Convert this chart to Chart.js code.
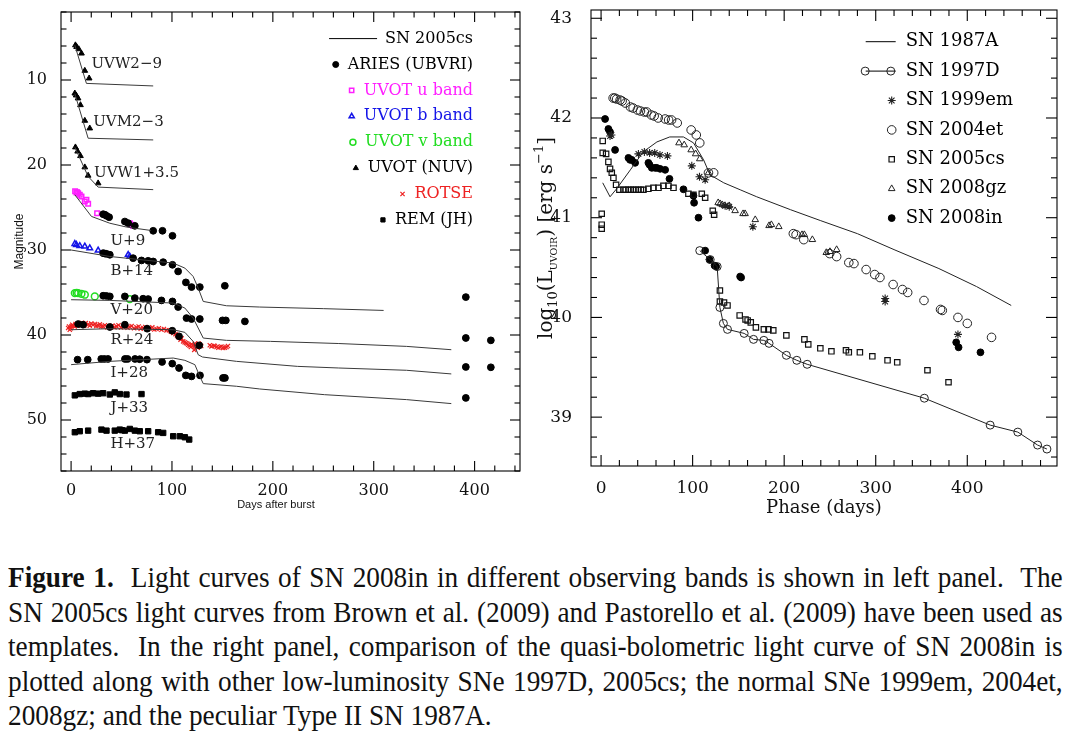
<!DOCTYPE html>
<html>
<head>
<meta charset="utf-8">
<script src="https://cdn.jsdelivr.net/npm/chart.js@4.4.1/dist/chart.umd.min.js"></script>
<style>
  body { margin: 0; background: #fff; width: 1073px; height: 749px; overflow: hidden; position: relative; }
  #left { position: absolute; left: 0; top: 0; }
  #right { position: absolute; left: 530px; top: 0; }
  #caption { position: absolute; left: 8px; top: 560px; width: 1122px; font: 29px/34.5px "Liberation Serif", serif; color: #111;
             transform: scaleX(0.94); transform-origin: 0 0; }
  #caption div { text-align: justify; text-align-last: justify; }
  #caption div.last { text-align: left; text-align-last: left; }
</style>
</head>
<body>
<canvas id="left" width="530" height="520"></canvas>
<canvas id="right" width="543" height="520"></canvas>
<div id="caption">
  <div><b>Figure 1.</b>&nbsp; Light curves of SN 2008in in different observing bands is shown in left panel.&nbsp; The</div>
  <div>SN 2005cs light curves from Brown et al. (2009) and Pastorello et al. (2009) have been used as</div>
  <div>templates.&nbsp; In the right panel, comparison of the quasi-bolometric light curve of SN 2008in is</div>
  <div>plotted along with other low-luminosity SNe 1997D, 2005cs; the normal SNe 1999em, 2004et,</div>
  <div class="last">2008gz; and the peculiar Type II SN 1987A.</div>
</div>
<script>
// ---------- LEFT PANEL DATA: [days after burst, magnitude] ----------
const xTicksLeft = [0, 100, 200, 300, 400];
const yTicksLeft = [10, 20, 30, 40, 50];

// SN 2005cs templates
const uvw2Tpl = [[3.7,5.9],[15.2,10.4],[81.4,10.7]];
const uvm2Tpl = [[3.7,11.6],[16.9,16.85],[81.4,17.05]];
const uvw1Tpl = [[3.7,17.9],[16.9,21.35],[26.8,22.6],[81.4,22.9]];
const uTpl = [[3.7,23.5],[20.2,26.05],[38.4,26.85],[54.9,27.3],[79,27.7]];
const bTpl = [[0,30.0],[38.4,30.76],[101.2,31.54],[112.8,32.13],[121,33.11],[126,34.48],[131,36.05],[154,36.56],[187,36.71],[250,36.9],[309.8,37.11]];
const vTpl = [[0,35.85],[38.4,35.93],[101.2,36.24],[112.8,36.83],[121,38.01],[126,39.18],[131,40.36],[154,40.63],[197.6,40.75],[264.8,41.0],[332.4,41.34],[376.9,41.73]];
const rTpl = [[0,39.38],[38.4,39.26],[101.2,39.38],[112.8,39.69],[121,40.75],[126,42.32],[130.3,42.59],[163.9,43.1],[224.3,43.69],[264.8,43.88],[332.4,44.15],[376.9,44.58]];
const iTpl = [[0,43.49],[38.4,43.1],[101.2,42.71],[112.8,42.98],[122.7,43.49],[127.6,44.86],[131,45.72],[163.9,46.03],[187,46.35],[251.1,47.02],[332.4,47.6],[376.9,48.07]];

// SN 2008in observations
const ariesU = [[31.8,25.79],[33.5,25.85],[35.1,25.98],[37.7,26.14],[53.3,26.65],[56.6,26.84],[63.2,27.16],[81.4,27.74],[90.6,27.74],[100.5,28.33]];
const ariesB = [[31.8,30.37],[33.5,30.42],[35.1,30.45],[38.4,30.56],[61.5,30.96],[69.8,31.23],[76.4,31.27],[81.4,31.35],[91.3,31.43],[100.5,31.74],[106.1,32.52],[113.8,33.81],[119.4,34.36],[127.6,34.36],[152.4,34.21],[391.3,35.54]];
const ariesV = [[31.8,35.38],[35,35.4],[38.4,35.46],[53.3,35.46],[63.2,35.66],[71.4,35.73],[76.4,35.77],[89.6,35.93],[100.5,36.05],[106.1,36.71],[114.4,38.01],[119.4,38.12],[127.6,38.12],[150.1,38.28],[153.4,38.28],[172.3,38.4],[391.3,40.35],[416.1,40.63]];
const ariesR = [[7,38.71],[11.9,38.79],[38.4,39.06],[53.3,38.79],[75.4,39.26],[100.3,39.5],[107,40.16],[127.1,41.22],[391.3,43.76],[416.1,43.8]];
const ariesI = [[6.4,42.9],[16.5,42.9],[29.9,42.82],[33,42.82],[36.6,42.82],[53.4,42.82],[56,42.82],[63.4,42.82],[68,42.85],[75.2,42.9],[90.2,43.17],[100.3,43.37],[107,43.88],[113.7,44.75],[119.4,44.87],[127.8,44.75],[150.6,45.05],[152.5,45.05],[391.3,47.4]];
const uvotU = [[4,23.1],[5.3,23.24],[6,23.2],[7,23.32],[8.6,23.51],[10.3,23.71],[13.6,24.3],[15.2,24.1],[16.9,24.57],[25.8,25.67],[58.2,26.84],[59.9,27.04],[61.5,27.16]];
const uvotB = [[3.7,29.27],[5.3,29.39],[8.6,29.51],[13.6,29.58],[18.5,29.78],[26.8,30.05],[56.6,30.56],[58.2,30.76]];
const uvotV = [[3.7,35.07],[5.5,35.05],[7,35.07],[10.3,35.15],[13.6,35.26],[23.5,35.46],[58.2,35.77]];
const uvw2Obs = [[4.3,5.9],[5.5,6.1],[7.6,6.36],[10.3,6.87],[13.6,8.9],[17.9,9.8]];
const uvm2Obs = [[3.7,11.57],[5,11.8],[6.9,12.15],[9.3,12.94],[13.6,14.78],[18.5,15.68]];
const uvw1Obs = [[4.3,17.91],[6.5,18.4],[9.3,18.93],[13.6,20.26],[16.9,21.24],[26.8,22.14]];
const rotseR = [[-2.9,39.18],[-2,39.0],[-1.3,39.38],[-0.5,39.2],[0.4,38.98],[1.2,38.8],[2,38.91],[3.5,39.0],[4.5,38.7],[5.3,38.79],[6.5,38.9],[8.6,38.71],
  [9.5,38.8],[10.5,38.55],[11.9,38.67],[13,38.9],[14.5,38.6],[16.9,38.75],[18.5,38.9],[20,38.65],[21.8,38.79],[23.5,38.7],[25,38.95],[26.8,38.87],
  [28.5,38.75],[30,39.0],[31.8,38.98],[33.5,38.85],[36,39.1],[38.4,38.98],[41,38.9],[43,39.1],[45,38.98],[47,38.85],[49.5,39.1],[51.6,39.02],
  [54,38.95],[56,39.15],[58.2,39.06],[60,38.95],[62.5,39.2],[64.8,39.1],[67,39.0],[69,39.25],[71.4,39.18],[73.5,39.05],[76,39.3],[78,39.22],
  [80.5,39.1],[82.5,39.35],[84.7,39.3],[87,39.2],[89.6,39.38],[92,39.3],[94.6,39.46],[97,39.45],[99,39.6],[101.2,39.77],[103.5,39.9],[105,40.05],
  [106.1,40.24],[108.5,40.55],[109.5,40.4],[111.1,40.75],[112.5,40.85],[113.8,40.94],[115,41.0],[116.1,41.14],[117.5,41.25],[118.7,41.41],[119.5,41.1],
  [121,41.26],[122.1,41.75],[122.7,41.02],[123,41.3],[124.3,41.41],[125.5,41.5],[126.5,41.0],[127.6,41.14],[129,41.3],[137.5,41.2],[139.2,41.34],
  [141.5,41.26],[142.5,41.3],[144.2,41.41],[146,41.5],[147.5,41.41],[149,41.35],[150.8,41.53],[152.5,41.5],[154.1,41.41],[155.5,41.3]];
const remJ = [[3.7,47.1],[8.6,46.95],[13.6,46.9],[16.9,46.95],[21.8,46.85],[26.8,46.9],[31.8,46.85],[38.4,47.0],[43.3,46.75],[48.3,46.95],[54.9,47.0],[69.8,46.95]];
const remH = [[3.7,51.44],[8.6,51.32],[16.9,51.25],[30.1,51.13],[35.1,51.25],[43.3,51.25],[48.3,51.13],[50.5,51.2],[53.3,51.25],[58.2,51.05],[63.2,51.25],[68.1,51.32],[76.4,51.32],[86.3,51.44],[91.3,51.52],[101.2,51.91],[107.8,51.91],[112.8,52.03],[117.1,52.3]];

// band labels and where they sit (days, magnitude)
const bandLabels = ['UVW2\u22129', 'UVM2\u22123', 'UVW1+3.5', 'U+9', 'B+14', 'V+20', 'R+24', 'I+28', 'J+33', 'H+37'];
const bandLabelDays = [20.2, 21.9, 22.8, 39, 39, 39, 39, 39, 39, 39];
const bandLabelMags = [8.16, 14.9, 20.97, 29.0, 32.52, 37.03, 40.55, 44.47, 48.58, 52.89];

// ---------- RIGHT PANEL DATA: [phase days, log10 L] ----------
const xTicksRight = [0, 100, 200, 300, 400];
const yTicksRight = [39, 40, 41, 42, 43];

const sn1987A = [[1.8,41.35],[9.8,41.21],[17,41.29],[32,41.48],[46,41.66],[61,41.76],[75,41.81],[90,41.81],[101,41.75],[112,41.58],[119,41.43],[134,41.35],[152,41.28],[170,41.21],[207,41.08],[240,40.97],[280,40.84],[320,40.68],[369,40.49],[410,40.31],[448,40.12]];
const sn1997D = [[107.8,40.67],[119.2,40.58],[126.8,40.51],[129.8,40.10],[133.6,39.94],[138.1,39.88],[156.3,39.84],[166.5,39.78],[177.8,39.77],[183.5,39.74],[202.4,39.62],[213.8,39.57],[225.1,39.53],[353.1,39.19],[425,38.92],[455.2,38.85],[476.8,38.72],[487,38.68]];
const sn1999em = [[9.8,41.82],[11.3,41.83],[40.8,41.64],[47.3,41.66],[53,41.65],[58.6,41.65],[64.3,41.63],[72.5,41.62],[99.1,41.52],[107.5,41.41],[113.7,41.38],[135.5,41.12],[140,41.11],[165.8,40.91],[310.3,40.19],[310.3,40.16],[389.8,39.83]];
const sn2004et = [[13.2,42.2],[15,42.2],[17,42.19],[20.8,42.18],[23,42.17],[26.5,42.15],[32.1,42.11],[35,42.1],[39.7,42.08],[43,42.07],[47.3,42.06],[50,42.06],[54.9,42.03],[58,42.02],[62.4,42.0],[70,41.99],[73.8,41.98],[77,41.98],[83.2,41.95],[98.4,41.88],[104,41.83],[107.8,41.75],[117.3,41.45],[123,41.45],[210,40.84],[213,40.83],[221.4,40.78],[249.7,40.64],[257.3,40.61],[270.6,40.55],[276.2,40.54],[289.5,40.48],[298.9,40.43],[304.6,40.4],[319,40.33],[329.2,40.28],[334.9,40.25],[352.7,40.17],[370.8,40.08],[372.7,40.07],[389.8,40.0],[400,39.94],[426.5,39.8]];
const sn2005cs = [[0.7,41.04],[0.7,40.93],[0.7,40.89],[1.8,41.77],[1.8,41.65],[5.5,41.64],[8,41.56],[9.8,41.49],[11.7,41.45],[13.5,41.4],[16.4,41.33],[20,41.28],[24.4,41.28],[27,41.28],[29.9,41.28],[32.5,41.28],[35.3,41.28],[38,41.28],[40.8,41.28],[43.5,41.28],[46.3,41.28],[51.7,41.29],[57.2,41.3],[62.7,41.3],[68.1,41.32],[73.6,41.32],[79.1,41.3],[95.4,41.24],[100.9,41.23],[110,41.24],[113.7,41.2],[122,41.07],[123.5,41.03],[129.8,40.27],[129.8,40.16],[134.3,40.15],[138.1,40.12],[151.4,40.02],[157.8,39.98],[160.1,39.97],[163.5,39.95],[169.1,39.9],[177.8,39.88],[182.8,39.88],[188.1,39.87],[202.4,39.82],[222.1,39.78],[226.3,39.73],[239.5,39.69],[251.6,39.66],[267.5,39.67],[270.6,39.65],[282.7,39.65],[296.3,39.61],[312.9,39.57],[323.5,39.55],[356.5,39.47],[379.5,39.35]];
const sn2008gz = [[85.1,41.75],[90.8,41.73],[98.4,41.68],[103.3,41.64],[107.8,41.59],[117.3,41.45],[127.9,41.15],[130,41.14],[132.4,41.13],[135,41.12],[140,41.12],[146.4,41.07],[155.1,41.04],[157.3,41.04],[168.4,40.98],[183.5,40.92],[186,40.93],[194.1,40.91],[219.5,40.83],[222,40.83],[230.8,40.78],[246,40.65],[250,40.66],[257.3,40.68]];
const sn2008in = [[4.4,41.99],[8,41.89],[9.8,41.86],[15.3,41.68],[29.9,41.6],[31.7,41.58],[33.5,41.58],[37.2,41.55],[51.7,41.55],[53,41.53],[55.4,41.5],[59,41.5],[60.8,41.5],[64.5,41.49],[70,41.48],[74.7,41.39],[90,41.285],[100.9,41.22],[101.6,41.15],[106.4,41.0],[113.7,40.67],[118.4,40.58],[124,40.52],[125.7,40.51],[151.9,40.41],[153,40.4],[387.9,39.75],[390.5,39.7],[414.4,39.65]];

// ---------- UTIL ----------
const toXY = pts => pts.map(([x, y]) => ({ x, y }));
const serif = 'DejaVu Serif';
// fixed axis boxes so the plot frames land where the figure has them
const fixX = h => s => { s.height = h; s.paddingLeft = 0; s.paddingRight = 0; };
const fixY = w => s => { s.width = w; s.paddingTop = 0; s.paddingBottom = 0; };

// ---------- PLUGINS ----------
// box round the plot with PGPLOT-style inward ticks on all four sides
const frameTicks = {
  id: 'frameTicks',
  afterDraw(chart, args, o) {
    const { ctx, chartArea: a, scales: { x, y } } = chart;
    ctx.save();
    ctx.strokeStyle = '#000';
    ctx.lineWidth = 1.1;
    ctx.strokeRect(a.left, a.top, a.right - a.left, a.bottom - a.top);
    const seg = (x1, y1, x2, y2) => { ctx.beginPath(); ctx.moveTo(x1, y1); ctx.lineTo(x2, y2); ctx.stroke(); };
    const each = (scale, minor, major, fn) => {
      const lo = Math.min(scale.min, scale.max), hi = Math.max(scale.min, scale.max);
      for (let k = Math.ceil(lo / minor - 1e-9); k * minor <= hi + 1e-9; k++) {
        const v = k * minor, r = v / major;
        fn(scale.getPixelForValue(v), Math.abs(r - Math.round(r)) < 1e-6 ? o.major : o.minor);
      }
    };
    each(x, o.xMinor, o.xMajor, (p, len) => { seg(p, a.bottom, p, a.bottom - len); seg(p, a.top, p, a.top + len); });
    each(y, o.yMinor, o.yMajor, (p, len) => { seg(a.left, p, a.left + len, p); seg(a.right, p, a.right - len, p); });
    ctx.restore();
  }
};

// the band names next to each light curve, plus the x title
const bandText = {
  id: 'bandText',
  afterDraw(chart) {
    const { ctx, chartArea: a, scales: { x, y } } = chart;
    ctx.save();
    ctx.font = '15px "' + serif + '"';
    ctx.fillStyle = '#222';
    ctx.textAlign = 'left';
    ctx.textBaseline = 'middle';
    bandLabels.forEach((t, i) => ctx.fillText(t, x.getPixelForValue(bandLabelDays[i]), y.getPixelForValue(bandLabelMags[i])));
    ctx.font = '11px "Liberation Sans"';
    ctx.fillStyle = '#111';
    ctx.textAlign = 'center';
    ctx.fillText('Days after burst', a.left + 215, a.bottom + 34);
    ctx.restore();
  }
};

function marker(ctx, ds, px, py, r) {
  ctx.fillStyle = ds.pointBackgroundColor;
  ctx.strokeStyle = ds.pointBorderColor;
  ctx.lineWidth = ds.pointBorderWidth;
  Chart.helpers.drawPoint(ctx, { pointStyle: ds.pointStyle, rotation: 0, radius: r, borderWidth: ds.pointBorderWidth }, px, py);
}

// left legend: right-aligned text, symbol in front
const legendLeft = {
  id: 'legendLeft',
  afterDraw(chart) {
    const { ctx, chartArea: a } = chart;
    const tx = a.right - 47;
    let row = 0;
    ctx.save();
    ctx.font = '16px "' + serif + '"';
    ctx.textAlign = 'right';
    ctx.textBaseline = 'middle';
    chart.data.datasets.forEach(ds => {
      if (!ds.legendText) return;
      const yy = a.top + 26.6 + row * 25.9;
      ctx.fillStyle = ds.labelColor || '#000';
      ctx.fillText(ds.legendText, tx, yy);
      const start = tx - ctx.measureText(ds.legendText).width;
      if (ds.showLine) {
        ctx.strokeStyle = '#000'; ctx.lineWidth = 1;
        ctx.beginPath(); ctx.moveTo(start - 56, yy); ctx.lineTo(start - 8, yy); ctx.stroke();
      } else {
        marker(ctx, ds, start - 12, yy, Math.min(ds.pointRadius, 3));
      }
      row++;
    });
    ctx.restore();
  }
};

// right legend: symbol then left-aligned text
const legendRight = {
  id: 'legendRight',
  afterDraw(chart) {
    const { ctx, chartArea: a } = chart;
    const tx = a.left + 314.7;
    let row = 0;
    ctx.save();
    ctx.font = '18px "' + serif + '"';
    ctx.textAlign = 'left';
    ctx.textBaseline = 'middle';
    chart.data.datasets.forEach(ds => {
      if (!ds.legendText) return;
      const yy = a.top + 31.7 + row * 29.4;
      ctx.fillStyle = '#000';
      ctx.fillText(ds.legendText, tx, yy);
      if (ds.showLine) {
        ctx.strokeStyle = '#000'; ctx.lineWidth = 1;
        ctx.beginPath(); ctx.moveTo(tx - 40, yy); ctx.lineTo(tx - 10, yy); ctx.stroke();
        if (ds.pointRadius > 0) { marker(ctx, ds, tx - 40.5, yy, ds.pointRadius); marker(ctx, ds, tx - 14.9, yy, ds.pointRadius); }
      } else {
        marker(ctx, ds, tx - 14, yy, ds.pointRadius);
      }
      row++;
    });
    ctx.restore();
  }
};

// rotated y title with sub/superscripts
const yTitleRight = {
  id: 'yTitleRight',
  afterDraw(chart) {
    const { ctx, chartArea: a } = chart;
    const parts = [['log', 20, 0], ['10', 13, 5], ['(L', 20, 0], ['UVOIR', 9.5, 5], [') [erg s', 20, 0], ['\u22121', 13, -9], [']', 20, 0]];
    ctx.save();
    ctx.fillStyle = '#111';
    ctx.textBaseline = 'alphabetic';
    ctx.textAlign = 'left';
    let total = 0;
    parts.forEach(p => { ctx.font = p[1] + 'px "' + serif + '"'; total += ctx.measureText(p[0]).width; });
    ctx.translate(15, (a.top + a.bottom) / 2);
    ctx.rotate(-Math.PI / 2);
    let u = -total / 2;
    parts.forEach(p => {
      ctx.font = p[1] + 'px "' + serif + '"';
      ctx.fillText(p[0], u, 7 + p[2]);
      u += ctx.measureText(p[0]).width;
    });
    ctx.restore();
  }
};

// ---------- LEFT CHART ----------
const tpl = { showLine: true, pointRadius: 0, borderColor: '#3a3a3a', borderWidth: 1, fill: false };
const open = 'rgba(0,0,0,0)';

new Chart(document.getElementById('left'), {
  type: 'scatter',
  data: {
    datasets: [
      { ...tpl, data: toXY(uvw2Tpl), legendText: 'SN 2005cs' },
      { ...tpl, data: toXY(uvm2Tpl) },
      { ...tpl, data: toXY(uvw1Tpl) },
      { ...tpl, data: toXY(uTpl) },
      { ...tpl, data: toXY(bTpl) },
      { ...tpl, data: toXY(vTpl) },
      { ...tpl, data: toXY(rTpl) },
      { ...tpl, data: toXY(iTpl) },
      { data: toXY([...ariesU, ...ariesB, ...ariesV, ...ariesR, ...ariesI]), legendText: 'ARIES (UBVRI)',
        pointStyle: 'circle', pointRadius: 3.4, pointBackgroundColor: '#000', pointBorderColor: '#000', pointBorderWidth: 1 },
      { data: toXY(uvotU), legendText: 'UVOT u band', labelColor: '#ff20ff',
        pointStyle: 'rect', pointRadius: 3.2, pointBackgroundColor: open, pointBorderColor: '#ff20ff', pointBorderWidth: 1.5 },
      { data: toXY(uvotB), legendText: 'UVOT b band', labelColor: '#1515e8',
        pointStyle: 'triangle', pointRadius: 3.2, pointBackgroundColor: open, pointBorderColor: '#1515e8', pointBorderWidth: 1.5 },
      { data: toXY(uvotV), legendText: 'UVOT v band', labelColor: '#22dd22',
        pointStyle: 'circle', pointRadius: 3.4, pointBackgroundColor: open, pointBorderColor: '#22dd22', pointBorderWidth: 1.5 },
      { data: toXY([...uvw2Obs, ...uvm2Obs, ...uvw1Obs]), legendText: 'UVOT (NUV)',
        pointStyle: 'triangle', pointRadius: 3.3, pointBackgroundColor: '#000', pointBorderColor: '#000', pointBorderWidth: 1 },
      { data: toXY(rotseR), legendText: 'ROTSE', labelColor: '#ee2222',
        pointStyle: 'crossRot', pointRadius: 3, pointBackgroundColor: '#ee2222', pointBorderColor: '#ee2222', pointBorderWidth: 1.2 },
      { data: toXY([...remJ, ...remH]), legendText: 'REM (JH)',
        pointStyle: 'rect', pointRadius: 3.8, pointBackgroundColor: '#000', pointBorderColor: '#000', pointBorderWidth: 1 },
    ]
  },
  options: {
    responsive: false, animation: false, devicePixelRatio: 1,
    layout: { autoPadding: false, padding: { left: 0, top: 12, right: 10, bottom: 0 } },
    plugins: {
      legend: { display: false }, tooltip: { enabled: false },
      frameTicks: { xMinor: 20, xMajor: 100, yMinor: 2, yMajor: 10, major: 10, minor: 5.5 }
    },
    scales: {
      x: {
        type: 'linear', min: -10, max: 445,
        afterBuildTicks: s => { s.ticks = xTicksLeft.map(v => ({ value: v })); },
        afterFit: fixX(49),
        grid: { display: false }, border: { display: false },
        ticks: { color: '#111', padding: 2, font: { family: serif, size: 16 } }
      },
      y: {
        type: 'linear', min: 2, max: 56, reverse: true,
        afterBuildTicks: s => { s.ticks = yTicksLeft.map(v => ({ value: v })); },
        afterFit: fixY(61),
        grid: { display: false }, border: { display: false },
        ticks: { color: '#111', padding: 6, font: { family: serif, size: 16 } },
        title: { display: true, text: 'Magnitude', color: '#111', padding: { top: 12.8, bottom: 0 }, font: { family: 'Liberation Sans', size: 12 } }
      }
    }
  },
  plugins: [frameTicks, bandText, legendLeft]
});

// ---------- RIGHT CHART ----------
new Chart(document.getElementById('right'), {
  type: 'scatter',
  data: {
    datasets: [
      { data: toXY(sn1987A), legendText: 'SN 1987A', showLine: true, pointRadius: 0, borderColor: '#222', borderWidth: 1 },
      { data: toXY(sn1997D), legendText: 'SN 1997D', showLine: true, borderColor: '#222', borderWidth: 1,
        pointStyle: 'circle', pointRadius: 4, pointBackgroundColor: open, pointBorderColor: '#222', pointBorderWidth: 1 },
      { data: toXY(sn1999em), legendText: 'SN 1999em',
        pointStyle: 'star', pointRadius: 4, pointBackgroundColor: '#222', pointBorderColor: '#222', pointBorderWidth: 1.1 },
      { data: toXY(sn2004et), legendText: 'SN 2004et',
        pointStyle: 'circle', pointRadius: 4.3, pointBackgroundColor: open, pointBorderColor: '#222', pointBorderWidth: 1 },
      { data: toXY(sn2005cs), legendText: 'SN 2005cs',
        pointStyle: 'rect', pointRadius: 3.8, pointBackgroundColor: open, pointBorderColor: '#111', pointBorderWidth: 1.2 },
      { data: toXY(sn2008gz), legendText: 'SN 2008gz',
        pointStyle: 'triangle', pointRadius: 3.8, pointBackgroundColor: open, pointBorderColor: '#222', pointBorderWidth: 1 },
      { data: toXY(sn2008in), legendText: 'SN 2008in',
        pointStyle: 'circle', pointRadius: 3.4, pointBackgroundColor: '#000', pointBorderColor: '#000', pointBorderWidth: 1 },
    ]
  },
  options: {
    responsive: false, animation: false, devicePixelRatio: 1,
    layout: { autoPadding: false, padding: { left: 0, top: 10, right: 16, bottom: 0 } },
    plugins: {
      legend: { display: false }, tooltip: { enabled: false },
      frameTicks: { xMinor: 20, xMajor: 100, yMinor: 0.2, yMajor: 1, major: 11, minor: 6 }
    },
    scales: {
      x: {
        type: 'linear', min: -11, max: 498,
        afterBuildTicks: s => { s.ticks = xTicksRight.map(v => ({ value: v })); },
        afterFit: fixX(54),
        grid: { display: false }, border: { display: false },
        ticks: { color: '#111', padding: 4, font: { family: serif, size: 17 } },
        title: { display: true, text: 'Phase (days)', color: '#111', padding: { bottom: 1, top: 0 }, font: { family: serif, size: 18 } }
      },
      y: {
        type: 'linear', min: 38.51, max: 43.083,
        afterBuildTicks: s => { s.ticks = yTicksRight.map(v => ({ value: v })); },
        afterFit: fixY(61),
        grid: { display: false }, border: { display: false },
        ticks: { color: '#111', padding: 11, font: { family: serif, size: 17 } }
      }
    }
  },
  plugins: [frameTicks, legendRight, yTitleRight]
});
</script>
</body>
</html>
